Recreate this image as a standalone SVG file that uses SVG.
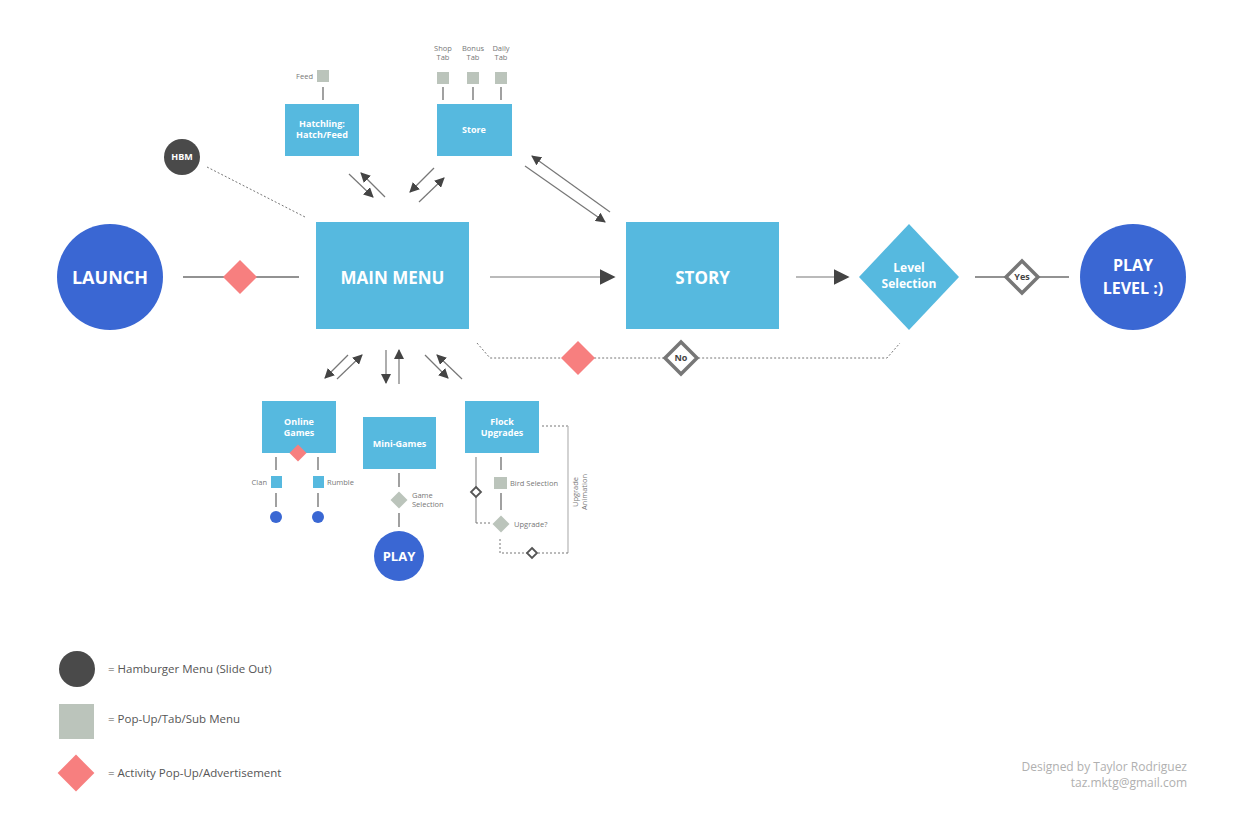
<svg xmlns="http://www.w3.org/2000/svg" width="1244" height="825" viewBox="0 0 1244 825">
<defs>
<marker id="ah" viewBox="0 0 10 10" refX="9" refY="5" markerWidth="10" markerHeight="10" markerUnits="userSpaceOnUse" orient="auto"><path d="M0,0 L10,5 L0,10 Z" fill="#444"/></marker>
<marker id="ahb" viewBox="0 0 10 10" refX="9" refY="5" markerWidth="16" markerHeight="16" markerUnits="userSpaceOnUse" orient="auto"><path d="M0,0 L10,5 L0,10 Z" fill="#444"/></marker>
</defs>
<style>
text{font-family:"Open Sans","Noto Sans","Liberation Sans",sans-serif}
.box{fill:#56B9DF}
.circ{fill:#3A67D3}
.pink{fill:#F77F7F}
.sub{fill:#BBC4BB}
.dark{fill:#4A4A4A}
.wt{fill:#fff;font-weight:bold;text-anchor:middle}
.ln{stroke:#6E6E6E;stroke-width:1.3;fill:none}
.ar{stroke:#777;stroke-width:1.2;fill:none;marker-end:url(#ah)}
.dot{stroke:#777;stroke-width:1;stroke-dasharray:2 2;fill:none}
.lab{fill:#777;font-size:7.5px}
.dec{fill:#fff;stroke:#777;stroke-width:3.5}
.leg{fill:#555;font-size:11.5px}
</style>
<rect width="1244" height="825" fill="#fff"/>

<g id="connectors">
<line class="ln" x1="183" y1="277" x2="299" y2="277"/>
<line class="ar" x1="490" y1="277" x2="614" y2="277" style="marker-end:url(#ahb)"/>
<line class="ar" x1="796" y1="277" x2="848" y2="277" style="marker-end:url(#ahb)"/>
<line class="ln" x1="975" y1="277" x2="1069" y2="277"/>
<polyline class="dot" points="477,343 490,358 887,358 900,343"/>
<line class="dot" x1="207" y1="167" x2="305" y2="217"/>
<line class="ar" x1="349" y1="174" x2="373" y2="197"/>
<line class="ar" x1="385" y1="197" x2="361" y2="173"/>
<line class="ar" x1="434" y1="168" x2="410" y2="192"/>
<line class="ar" x1="419" y1="202" x2="444" y2="178"/>
<line class="ar" x1="610" y1="212" x2="532" y2="156"/>
<line class="ar" x1="525" y1="166" x2="605" y2="222"/>
<line class="ar" x1="348" y1="355" x2="325" y2="378"/>
<line class="ar" x1="337" y1="379" x2="362" y2="355"/>
<line class="ar" x1="386" y1="350" x2="386" y2="383"/>
<line class="ar" x1="399" y1="384" x2="399" y2="350"/>
<line class="ar" x1="425" y1="355" x2="448" y2="378"/>
<line class="ar" x1="462" y1="379" x2="437" y2="355"/>
<line class="ln" x1="323" y1="87" x2="323" y2="100"/>
<line class="ln" x1="443" y1="87" x2="443" y2="100"/>
<line class="ln" x1="473" y1="87" x2="473" y2="100"/>
<line class="ln" x1="501" y1="87" x2="501" y2="100"/>
<line class="ln" x1="276" y1="457" x2="276" y2="470"/>
<line class="ln" x1="318" y1="457" x2="318" y2="470"/>
<line class="ln" x1="276" y1="493" x2="276" y2="507"/>
<line class="ln" x1="318" y1="493" x2="318" y2="507"/>
<line class="ln" x1="399" y1="473" x2="399" y2="487"/>
<line class="ln" x1="399" y1="513" x2="399" y2="527"/>
<line class="ln" x1="501" y1="457" x2="501" y2="470"/>
<line class="ln" x1="501" y1="493" x2="501" y2="510"/>
<line class="ln" x1="476" y1="457" x2="476" y2="523" style="stroke:#999"/>
<line class="dot" x1="476" y1="523" x2="492" y2="523"/>
<polyline class="dot" points="542,426 568,426"/>
<line x1="568" y1="426" x2="568" y2="553" stroke="#bbb" stroke-width="1.3"/>
<polyline class="dot" points="568,553 500,553 500,538"/>
</g>

<g id="launch"><circle class="circ" cx="110" cy="277" r="53"/><text class="wt" x="110" y="284" font-size="18">LAUNCH</text></g>
<g id="ad1"><rect class="pink" x="228" y="265" width="24" height="24" transform="rotate(45 240 277)"/></g>
<g id="main-menu"><rect class="box" x="316" y="222" width="153" height="107"/><text class="wt" x="392.5" y="284" font-size="17">MAIN MENU</text></g>
<g id="story"><rect class="box" x="626" y="222" width="153" height="107"/><text class="wt" x="702.5" y="284" font-size="17">STORY</text></g>
<g id="level-selection"><polygon class="box" points="909,224 959,277 909,330 859,277"/><text class="wt" x="909" y="272" font-size="12">Level</text><text class="wt" x="909" y="288" font-size="12">Selection</text></g>
<g id="yes"><polygon class="dec" points="1022,261 1038,277 1022,293 1006,277"/><text x="1022" y="280" font-size="9" font-weight="bold" fill="#444" text-anchor="middle">Yes</text></g>
<g id="play-level"><circle class="circ" cx="1133" cy="277" r="53"/><text class="wt" x="1133" y="271" font-size="16">PLAY</text><text class="wt" x="1133" y="294" font-size="16">LEVEL :)</text></g>
<g id="ad2"><rect class="pink" x="566" y="346" width="24" height="24" transform="rotate(45 578 358)"/></g>
<g id="no"><polygon class="dec" points="681,342 697,358 681,374 665,358"/><text x="681" y="361" font-size="9" font-weight="bold" fill="#444" text-anchor="middle">No</text></g>

<g id="hbm"><circle class="dark" cx="182" cy="157" r="18"/><text x="182" y="160" font-size="9" font-weight="bold" fill="#fff" text-anchor="middle">HBM</text></g>
<g id="hatchling"><rect class="box" x="285" y="104" width="74" height="52"/><text class="wt" x="322" y="127" font-size="9">Hatchling:</text><text class="wt" x="322" y="138" font-size="9">Hatch/Feed</text></g>
<g id="feed"><rect class="sub" x="317" y="70" width="12" height="12"/><text class="lab" x="313" y="79" text-anchor="end">Feed</text></g>
<g id="store"><rect class="box" x="437" y="104" width="75" height="52"/><text class="wt" x="474" y="133" font-size="9">Store</text></g>
<g id="shop-tab"><rect class="sub" x="437" y="72" width="12" height="12"/><text class="lab" x="443" y="51" text-anchor="middle">Shop</text><text class="lab" x="443" y="60" text-anchor="middle">Tab</text></g>
<g id="bonus-tab"><rect class="sub" x="467" y="72" width="12" height="12"/><text class="lab" x="473" y="51" text-anchor="middle">Bonus</text><text class="lab" x="473" y="60" text-anchor="middle">Tab</text></g>
<g id="daily-tab"><rect class="sub" x="495" y="72" width="12" height="12"/><text class="lab" x="501" y="51" text-anchor="middle">Daily</text><text class="lab" x="501" y="60" text-anchor="middle">Tab</text></g>

<g id="online-games"><rect class="box" x="262" y="401" width="74" height="52"/><text class="wt" x="299" y="425" font-size="9">Online</text><text class="wt" x="299" y="436" font-size="9">Games</text><rect class="pink" x="292" y="447" width="12" height="12" transform="rotate(45 298 453)"/></g>
<g id="clan"><rect class="box" x="271" y="476" width="11" height="12"/><text class="lab" x="267" y="485" text-anchor="end">Clan</text><circle class="circ" cx="276" cy="517" r="6"/></g>
<g id="rumble"><rect class="box" x="313" y="476" width="11" height="12"/><text class="lab" x="327" y="485">Rumble</text><circle class="circ" cx="318" cy="517" r="6"/></g>
<g id="mini-games"><rect class="box" x="363" y="417" width="73" height="52"/><text class="wt" x="399.5" y="447" font-size="9">Mini-Games</text></g>
<g id="game-selection"><rect class="sub" x="393" y="494" width="12" height="12" transform="rotate(45 399 500)"/><text class="lab" x="412" y="498">Game</text><text class="lab" x="412" y="507">Selection</text></g>
<g id="play"><circle class="circ" cx="399" cy="556" r="25"/><text class="wt" x="399" y="561" font-size="13">PLAY</text></g>
<g id="flock-upgrades"><rect class="box" x="465" y="401" width="74" height="52"/><text class="wt" x="502" y="425" font-size="9">Flock</text><text class="wt" x="502" y="436" font-size="9">Upgrades</text></g>
<g id="bird-selection"><rect class="sub" x="494" y="477" width="13" height="12"/><text class="lab" x="510" y="486">Bird Selection</text></g>
<g id="upgrade"><rect class="sub" x="495" y="518" width="12" height="12" transform="rotate(45 501 524)"/><text class="lab" x="514" y="527">Upgrade?</text></g>
<g id="dec-left"><polygon points="476,487 481,492 476,497 471,492" fill="#fff" stroke="#555" stroke-width="1.8"/></g>
<g id="dec-bottom"><polygon points="532,548 537,553 532,558 527,553" fill="#fff" stroke="#555" stroke-width="1.8"/></g>
<g id="upgrade-animation"><text class="lab" transform="translate(578 492) rotate(-90)" text-anchor="middle">Upgrade</text><text class="lab" transform="translate(587 492) rotate(-90)" text-anchor="middle">Animation</text></g>

<g id="legend">
<circle class="dark" cx="77" cy="669" r="18"/><text class="leg" x="108" y="673">= Hamburger Menu (Slide Out)</text>
<rect class="sub" x="59" y="704" width="35" height="35"/><text class="leg" x="108" y="723">= Pop-Up/Tab/Sub Menu</text>
<rect class="pink" x="63" y="760" width="26" height="26" transform="rotate(45 76 773)"/><text class="leg" x="108" y="777">= Activity Pop-Up/Advertisement</text>
</g>
<g id="credit"><text x="1187" y="771" font-size="12" fill="#B0B0B0" text-anchor="end">Designed by Taylor Rodriguez</text><text x="1187" y="787" font-size="12" fill="#B0B0B0" text-anchor="end">taz.mktg@gmail.com</text></g>
</svg>
